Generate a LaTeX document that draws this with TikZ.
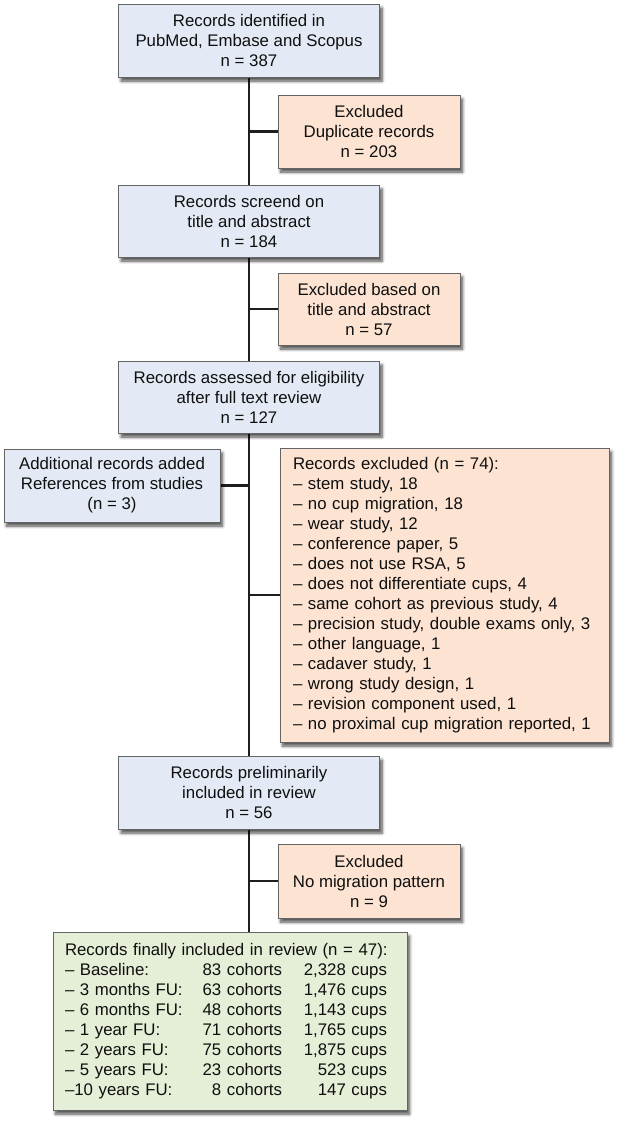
\documentclass[tikz,border=0pt]{standalone}
\usepackage{fontspec}
\setmainfont{Liberation Sans}
\usetikzlibrary{shadows.blur,backgrounds}
\definecolor{bluefill}{RGB}{228,234,245}
\definecolor{orangefill}{RGB}{252,227,210}
\definecolor{greenfill}{RGB}{229,238,215}
\definecolor{bordercol}{RGB}{100,100,100}
\definecolor{linecol}{RGB}{30,30,30}
\definecolor{txtcol}{RGB}{15,15,15}
\tikzset{
  boxbase/.style={draw=bordercol, line width=1pt, inner sep=0pt, text=txtcol,
    font=\fontsize{16.8}{20}\selectfont,
    blur shadow={shadow xshift=2.5pt, shadow yshift=-4pt, shadow blur steps=7, shadow opacity=70, shadow blur radius=3pt}},
  bluebox/.style={boxbase, fill=bluefill, align=center},
  orangebox/.style={boxbase, fill=orangefill, align=center},
  listbox/.style={boxbase, fill=orangefill, align=left},
  greenbox/.style={boxbase, fill=greenfill, align=left},
  mainline/.style={draw=linecol, line width=2.6pt},
  branch/.style={draw=linecol, line width=2.6pt},
}
\newcommand{\rowG}[3]{\makebox[136pt][l]{#1}\makebox[81pt][r]{#2}\makebox[105pt][r]{#3}}
\begin{document}
\begin{tikzpicture}[x=1pt,y=-1pt]
\useasboundingbox (0,0) rectangle (624,1125);

\node[bluebox, minimum width=261pt, minimum height=73pt] (b1) at (249,40.5)
  {Records identified in\\PubMed, Embase and Scopus\\n = 387};
\node[orangebox, minimum width=182pt, minimum height=73pt] (b2) at (369,131.5)
  {Excluded\\Duplicate records\\n = 203};
\node[bluebox, minimum width=261pt, minimum height=72pt] (b3) at (249,221)
  {Records screend on\\title and abstract\\n = 184};
\node[orangebox, minimum width=182pt, minimum height=72pt] (b4) at (369,309)
  {Excluded based on\\title and abstract\\n = 57};
\node[bluebox, minimum width=261pt, minimum height=72pt] (b5) at (249,397)
  {Records assessed for eligibility\\after full text review\\n = 127};
\node[bluebox, minimum width=216pt, minimum height=73pt] (b6) at (112,485.5)
  {Additional records added\\References from studies\\(n = 3)};
\node[listbox, text width=303pt, inner xsep=13pt, minimum height=294pt] (b7) at (444.5,595)
  {Records excluded (n = 74):\\
   – stem study, 18\\
   – no cup migration, 18\\
   – wear study, 12\\
   – conference paper, 5\\
   – does not use RSA, 5\\
   – does not differentiate cups, 4\\
   – same cohort as previous study, 4\\
   – precision study, double exams only, 3\\
   – other language, 1\\
   – cadaver study, 1\\
   – wrong study design, 1\\
   – revision component used, 1\\
   – no proximal cup migration reported, 1};
\node[bluebox, minimum width=261pt, minimum height=73pt] (b8) at (249,792.5)
  {Records preliminarily\\included in review\\n = 56};
\node[orangebox, minimum width=182pt, minimum height=74pt] (b9) at (369,881)
  {Excluded\\No migration pattern\\n = 9};
\node[greenbox, text width=330pt, inner xsep=12pt, minimum height=178pt] (b10) at (230,1021)
  {Records finally included in review (n = 47):\\
   \rowG{– Baseline:}{83 cohorts}{2,328 cups}\\
   \rowG{– 3 months FU:}{63 cohorts}{1,476 cups}\\
   \rowG{– 6 months FU:}{48 cohorts}{1,143 cups}\\
   \rowG{– 1 year FU:}{71 cohorts}{1,765 cups}\\
   \rowG{– 2 years FU:}{75 cohorts}{1,875 cups}\\
   \rowG{– 5 years FU:}{23 cohorts}{523 cups}\\
   \rowG{–10 years FU:}{8 cohorts}{147 cups}};

\begin{scope}[on background layer]
  \coordinate (mtop) at (b1.south);
  \coordinate (mbot) at (b1.south |- b10.north);
  \draw[mainline] (mtop) -- (mbot);
  \draw[branch] (b2.west) -- (b2.west -| mtop);
  \draw[branch] (b4.west) -- (b4.west -| mtop);
  \draw[branch] (b6.east) -- (b6.east -| mtop);
  \draw[branch] (b7.west) -- (b7.west -| mtop);
  \draw[branch] (b9.west) -- (b9.west -| mtop);
\end{scope}
\end{tikzpicture}
\end{document}
